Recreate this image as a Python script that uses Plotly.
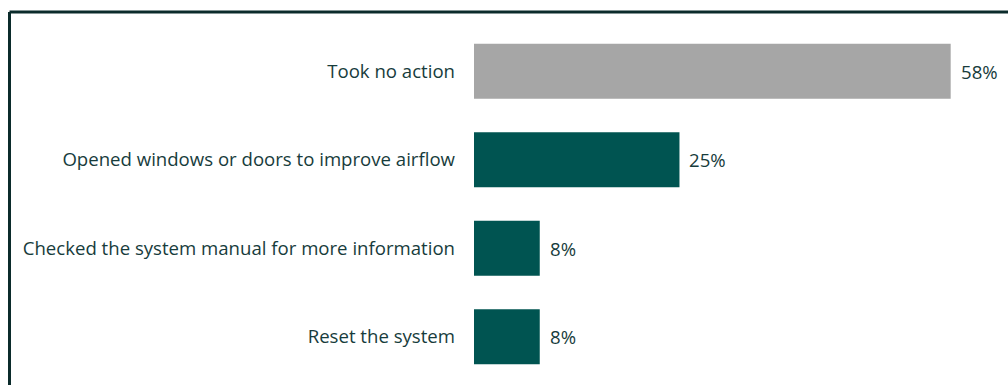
import plotly.graph_objects as go

categories = [
    "Took no action",
    "Opened windows or doors to improve airflow",
    "Checked the system manual for more information",
    "Reset the system",
]
values = [58, 25, 8, 8]
bar_colors = ["#a6a6a6", "#005451", "#005451", "#005451"]
value_labels = [f"{v}%" for v in values]

W, H = 1008, 385
ML, MR, MT, MB = 474, 8, 27, 4
x_max = 64
FONT = "Open Sans"
FONT_SIZE = 18.6
TEXT_COLOR = "#173c3c"

fig = go.Figure(
    go.Bar(
        x=values,
        y=categories,
        orientation="h",
        marker=dict(color=bar_colors, line=dict(width=0)),
        hoverinfo="skip",
    )
)

# value labels placed just past the end of each bar
for cat, val, lab in zip(categories, values, value_labels):
    fig.add_annotation(
        x=val, y=cat, xref="x", yref="y",
        text=lab, showarrow=False,
        xanchor="left", yanchor="middle", xshift=8,
        font=dict(family=FONT, size=FONT_SIZE, color=TEXT_COLOR),
    )

plot_w = W - ML - MR
plot_h = H - MT - MB


def px_to_paper_x(px):
    return (px - ML) / plot_w


def px_to_paper_y(py):
    return 1 - (py - MT) / plot_h


border_x = px_to_paper_x(9.5)
border_y = px_to_paper_y(12)
border_color = "#0b2b2b"

fig.add_shape(type="line", xref="paper", yref="paper",
              x0=border_x, x1=px_to_paper_x(W + 10), y0=border_y, y1=border_y,
              line=dict(color=border_color, width=3))
fig.add_shape(type="line", xref="paper", yref="paper",
              x0=border_x, x1=border_x, y0=border_y, y1=px_to_paper_y(H + 10),
              line=dict(color=border_color, width=3))

fig.update_layout(
    width=W,
    height=H,
    margin=dict(l=ML, r=MR, t=MT, b=MB),
    paper_bgcolor="white",
    plot_bgcolor="white",
    showlegend=False,
    bargap=0.38,
    font=dict(family=FONT, size=FONT_SIZE, color=TEXT_COLOR),
    xaxis=dict(range=[0, x_max], visible=False, fixedrange=True),
    yaxis=dict(
        autorange="reversed",
        showgrid=False,
        showline=False,
        zeroline=False,
        ticks="",
        ticklabelstandoff=18,
        tickfont=dict(family=FONT, size=FONT_SIZE, color=TEXT_COLOR),
        fixedrange=True,
    ),
)

fig.write_html("out.html")
